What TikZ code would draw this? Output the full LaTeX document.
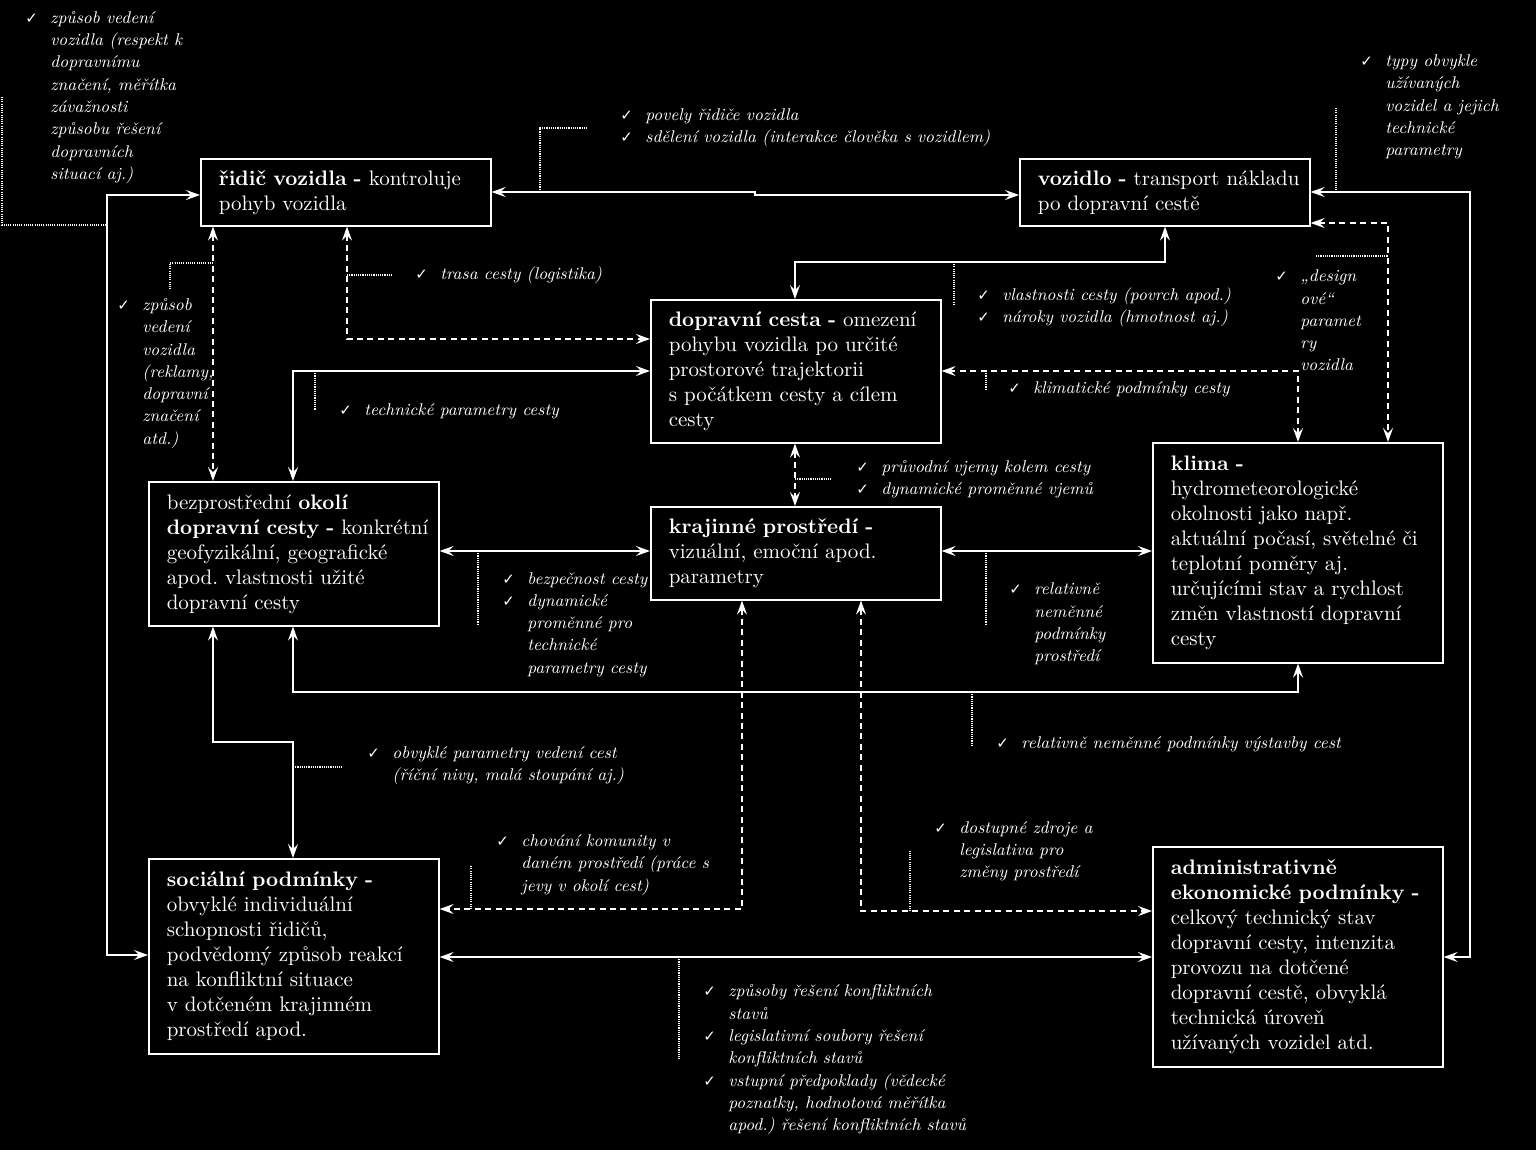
\documentclass[tikz,border=0pt]{standalone}
\usepackage{fontspec}
\newfontfamily\dejavu{DejaVu Sans}
\usetikzlibrary{arrows.meta}
\frenchspacing
\newcommand\ckm{\makebox[12.5pt][l]{\dejavu\fontsize{7.5}{9}\selectfont ✓}}
\newcommand\ind{\hspace*{12.5pt}}
\begin{document}
\begin{tikzpicture}[x=0.5pt,y=-0.5pt,
  box/.style={draw=white,line width=0.8pt,text=white,fill=black,anchor=north west,
    inner xsep=9pt,inner ysep=2pt,text width=127pt,minimum width=145pt,align=left,
    font=\frenchspacing\fontsize{10.5}{12.5}\selectfont},
  note/.style={text=white,inner sep=0pt,anchor=west,align=left,
    font=\frenchspacing\itshape\fontsize{8.5}{11.15}\selectfont},
  tip/.style={{Stealth[length=7pt,width=5pt,inset=2.6pt]}-{Stealth[length=7pt,width=5pt,inset=2.6pt]}},
  sconn/.style={draw=white,line width=0.8pt,tip},
  dconn/.style={draw=white,line width=0.8pt,dash pattern=on 3pt off 2.2pt,tip},
  lead/.style={draw=white,line width=0.7pt,dash pattern=on 0.55pt off 0.55pt}]
\path[fill=black] (0,0) rectangle (1536,1150);

% boxes
\node[box,minimum height=33.5pt] (ridic) at (200,158) {\mbox{\textbf{řidič vozidla -} kontroluje}\\pohyb vozidla};
\node[box,minimum height=33.5pt] (vozidlo) at (1019,158) {\mbox{\textbf{vozidlo -} transport nákladu}\\po dopravní cestě};
\node[box,minimum height=71.5pt] (cesta) at (650,299) {\mbox{\textbf{dopravní cesta -} omezení}\\\mbox{pohybu vozidla po určité}\\prostorové trajektorii\\\mbox{s počátkem cesty a cílem}\\cesty};
\node[box,minimum height=72pt] (okoli) at (148,481) {bezprostřední \textbf{okolí}\\\mbox{\textbf{dopravní cesty -} konkrétní}\\\mbox{geofyzikální, geografické}\\\mbox{apod. vlastnosti užité}\\dopravní cesty};
\node[box,minimum height=46.5pt] (krajinne) at (650,506) {\textbf{krajinné prostředí -}\\vizuální, emoční apod.\\parametry};
\node[box,minimum height=110pt] (klima) at (1152,442) {\textbf{klima -}\\hydrometeorologické\\okolnosti jako např.\\\mbox{aktuální počasí, světelné či}\\teplotní poměry aj.\\\mbox{určujícími stav a rychlost}\\\mbox{změn vlastností dopravní}\\cesty};
\node[box,minimum height=97.5pt] (socialni) at (148,858) {\textbf{sociální podmínky -}\\obvyklé individuální\\schopnosti řidičů,\\\mbox{podvědomý způsob reakcí}\\na konfliktní situace\\\mbox{v dotčeném krajinném}\\prostředí apod.};
\node[box,minimum height=110pt] (admin) at (1152,846) {\textbf{administrativně}\\\mbox{\textbf{ekonomické podmínky -}}\\\mbox{celkový technický stav}\\\mbox{dopravní cesty, intenzita}\\provozu na dotčené\\\mbox{dopravní cestě, obvyklá}\\technická úroveň\\\mbox{užívaných vozidel atd.}};

% bend coordinates
\coordinate (a1) at (755,192); \coordinate (a2) at (755,195);
\coordinate (b1) at (107,195); \coordinate (b2) at (107,955);
\coordinate (c1) at (1470,192); \coordinate (c2) at (1470,957);
\coordinate (d1) at (1165,262); \coordinate (d2) at (795,262);
\coordinate (e1) at (347,339);
\coordinate (f1) at (213,300);
\coordinate (g1) at (293,371);
\coordinate (h1) at (1298,371);
\coordinate (i1) at (1388,223);
\coordinate (j1) at (795,470);
\coordinate (k1) at (540,551);
\coordinate (l1) at (1040,551);
\coordinate (m1) at (293,692); \coordinate (m2) at (1298,692);
\coordinate (n1) at (213,742); \coordinate (n2) at (293,742);
\coordinate (o1) at (742,909);
\coordinate (p1) at (861,911);
\coordinate (q1) at (800,957);

% connectors
\draw[sconn] (ridic.east |- a1) -- (a1) -- (a2) -- (vozidlo.west |- a2);
\draw[sconn] (ridic.west |- b1) -- (b1) -- (b2) -- (socialni.west |- b2);
\draw[sconn] (vozidlo.east |- c1) -- (c1) -- (c2) -- (admin.east |- c2);
\draw[sconn] (vozidlo.south -| d1) -- (d1) -- (d2) -- (cesta.north -| d2);
\draw[dconn] (ridic.south -| e1) -- (e1) -- (cesta.west |- e1);
\draw[dconn] (ridic.south -| f1) -- (okoli.north -| f1);
\draw[sconn] (cesta.west |- g1) -- (g1) -- (okoli.north -| g1);
\draw[dconn] (klima.north -| h1) -- (h1) -- (cesta.east |- h1);
\draw[dconn] (vozidlo.east |- i1) -- (i1) -- (klima.north -| i1);
\draw[dconn] (cesta.south -| j1) -- (krajinne.north -| j1);
\draw[sconn] (okoli.east |- k1) -- (krajinne.west |- k1);
\draw[sconn] (krajinne.east |- l1) -- (klima.west |- l1);
\draw[sconn] (okoli.south -| m1) -- (m1) -- (m2) -- (klima.south -| m2);
\draw[sconn] (okoli.south -| n1) -- (n1) -- (n2) -- (socialni.north -| n2);
\draw[dconn] (krajinne.south -| o1) -- (o1) -- (socialni.east |- o1);
\draw[dconn] (krajinne.south -| p1) -- (p1) -- (admin.west |- p1);
\draw[sconn] (socialni.east |- q1) -- (admin.west |- q1);

% dotted leaders
\draw[lead] (2,97) -- (2,225) -- (107,225);
\draw[lead] (540,192) -- (540,128) -- (588,128);
\draw[lead] (1336,108) -- (1336,192);
\draw[lead] (347,275) -- (392,275);
\draw[lead] (213,263) -- (170,263) -- (170,290);
\draw[lead] (315,371) -- (315,410);
\draw[lead] (954,262) -- (954,305);
\draw[lead] (986,371) -- (986,390);
\draw[lead] (1316,256) -- (1388,256);
\draw[lead] (795,479) -- (832,479);
\draw[lead] (478,551) -- (478,625);
\draw[lead] (986,551) -- (986,625);
\draw[lead] (972,692) -- (972,745);
\draw[lead] (293,767) -- (342,767);
\draw[lead] (471,909) -- (471,865);
\draw[lead] (910,911) -- (910,851);
\draw[lead] (679,957) -- (679,1060);

% annotations
\node[note] (t1) at (25,97.5) {\ckm způsob vedení\\\ind vozidla (respekt k\\\ind dopravnímu\\\ind značení, měřítka\\\ind závažnosti\\\ind způsobu řešení\\\ind dopravních\\\ind situací aj.)};
\node[note] (t2) at (620,128) {\ckm povely řidiče vozidla\\\ckm sdělení vozidla (interakce člověka s vozidlem)};
\node[note] (t3) at (1360,107) {\ckm typy obvykle\\\ind užívaných\\\ind vozidel a jejich\\\ind technické\\\ind parametry};
\node[note] (t4) at (415,275) {\ckm trasa cesty (logistika)};
\node[note] (t5) at (117,373.5) {\ckm způsob\\\ind vedení\\\ind vozidla\\\ind (reklamy,\\\ind dopravní\\\ind značení\\\ind atd.)};
\node[note] (t6) at (339,411) {\ckm technické parametry cesty};
\node[note] (t7) at (977,307) {\ckm vlastnosti cesty (povrch apod.)\\\ckm nároky vozidla (hmotnost aj.)};
\node[note] (t8) at (1008,389) {\ckm klimatické podmínky cesty};
\node[note] (t9) at (1275,320.5) {\ckm „design\\\ind ové“\\\ind paramet\\\ind ry\\\ind vozidla};
\node[note] (t10) at (856,479.5) {\ckm průvodní vjemy kolem cesty\\\ckm dynamické proměnné vjemů};
\node[note] (t11) at (502,624.5) {\ckm bezpečnost cesty\\\ckm dynamické\\\ind proměnné pro\\\ind technické\\\ind parametry cesty};
\node[note] (t12) at (1009,624) {\ckm relativně\\\ind neměnné\\\ind podmínky\\\ind prostředí};
\node[note] (t13) at (996,744) {\ckm relativně neměnné podmínky výstavby cest};
\node[note] (t14) at (367,766) {\ckm obvyklé parametry vedení cest\\\ind (říční nivy, malá stoupání aj.)};
\node[note] (t15) at (496,865) {\ckm chování komunity v\\\ind daném prostředí (práce s\\\ind jevy v okolí cest)};
\node[note] (t16) at (934,851.5) {\ckm dostupné zdroje a\\\ind legislativa pro\\\ind změny prostředí};
\node[note] (t17) at (703,1060) {\ckm způsoby řešení konfliktních\\\ind stavů\\\ckm legislativní soubory řešení\\\ind konfliktních stavů\\\ckm vstupní předpoklady (vědecké\\\ind poznatky, hodnotová měřítka\\\ind apod.) řešení konfliktních stavů};
\end{tikzpicture}
\end{document}
